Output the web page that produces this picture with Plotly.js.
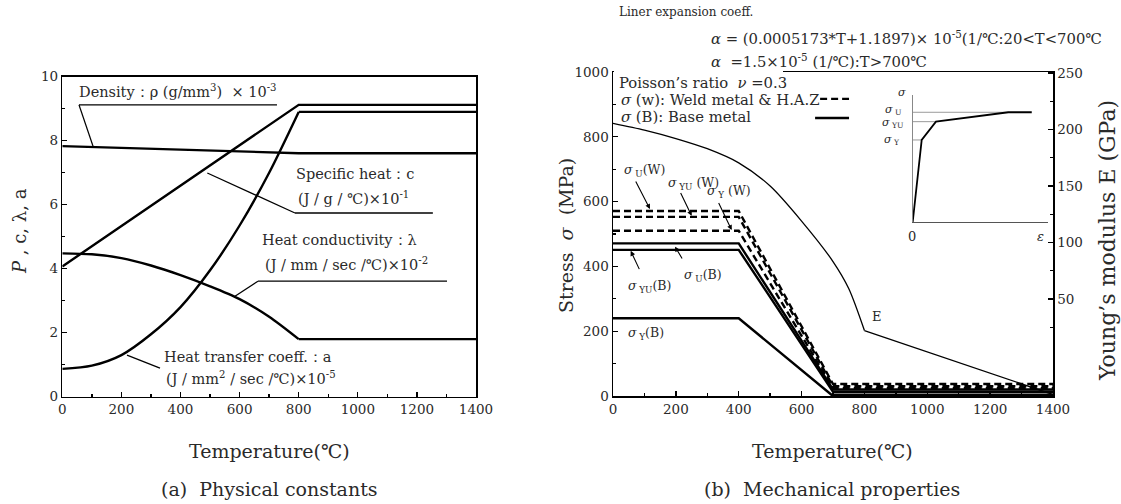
<!DOCTYPE html>
<html><head><meta charset="utf-8">
<script src="https://cdn.plot.ly/plotly-3.0.1.min.js"></script>
<style>html,body{margin:0;padding:0;background:#fff}#c{width:1121px;height:504px}</style>
</head><body><div id="c"></div>
<script>
// ---------- (a) Physical constants ----------
const densityT = [0, 800, 1400];
const densityV = [7.83, 7.61, 7.61];
const specHeatT = [0, 800, 1400];
const specHeatV = [4.07, 9.12, 9.12];
const conductT = [0, 100, 200, 300, 400, 500, 600, 700, 800, 1400];
const conductV = [4.48, 4.45, 4.33, 4.10, 3.80, 3.45, 3.05, 2.50, 1.80, 1.80];
const transferT = [0, 100, 200, 300, 400, 500, 600, 700, 800, 1400];
const transferV = [0.87, 0.97, 1.30, 1.95, 2.80, 3.95, 5.35, 7.00, 8.90, 8.90];

// ---------- (b) Mechanical properties ----------
const stressT = [0, 400, 700, 1400];
const sigUW  = [571, 571, 37, 37];
const sigYUW = [553, 553, 30, 30];
const sigYW  = [510, 510, 24, 24];
const sigUB  = [471, 471, 20, 20];
const sigYUB = [451, 451, 13, 13];
const sigYBT = [0, 400, 695, 1400];
const sigYB  = [240, 240, 4, 4];
const modT = [0, 100, 200, 300, 400, 500, 600, 700, 750, 800, 1400];
const modE = [205.5, 199.5, 192, 183, 170.5, 150, 119, 83.2, 59.3, 22.1, -34.5];

// inset schematic stress-strain curve
const insetStrain = [0, 0.0665, 0.172, 0.707, 0.88];
const insetStress = [0, 0.646, 0.790, 0.864, 0.864];
const insetLevels = [0.864, 0.790, 0.646];
const insetLevelEnd = [0.707, 0.172, 0.0665];

const xTicks = [0, 200, 400, 600, 800, 1000, 1200, 1400];
const yTicksA = [0, 2, 4, 6, 8, 10];
const yTicksStress = [0, 200, 400, 600, 800, 1000];
const yTicksE = [50, 100, 150, 200, 250];

const FONT = 'DejaVu Serif';
const TXT = '#2a2a2a';
const lineK = {color: '#000', width: 2.4};
const DASH = '7px,4px';

function ln(x, y, xa, ya, line, shape) {
  return {x: x, y: y, xaxis: xa, yaxis: ya, mode: 'lines', line: Object.assign({shape: shape || 'linear'}, line), hoverinfo: 'skip', showlegend: false};
}

const traces = [
  ln(densityT, densityV, 'x', 'y', lineK),
  ln(specHeatT, specHeatV, 'x', 'y', lineK),
  ln(conductT.slice(0, 9), conductV.slice(0, 9), 'x', 'y', Object.assign({smoothing: 0.8}, lineK), 'spline'),
  ln(conductT.slice(8), conductV.slice(8), 'x', 'y', lineK),
  ln(transferT.slice(0, 9), transferV.slice(0, 9), 'x', 'y', Object.assign({smoothing: 0.8}, lineK), 'spline'),
  ln(transferT.slice(8), transferV.slice(8), 'x', 'y', lineK),

  ln(stressT, sigUW, 'x2', 'y2', {color: '#000', width: 2.4, dash: DASH}),
  ln(stressT, sigYUW, 'x2', 'y2', {color: '#000', width: 2.4, dash: DASH}),
  ln(stressT, sigYW, 'x2', 'y2', {color: '#000', width: 2.4, dash: DASH}),
  ln(stressT, sigUB, 'x2', 'y2', lineK),
  ln(stressT, sigYUB, 'x2', 'y2', lineK),
  ln(sigYBT, sigYB, 'x2', 'y2', lineK),
  ln(modT.slice(0, 10), modE.slice(0, 10), 'x2', 'y3', {color: '#000', width: 1.3, smoothing: 0.8}, 'spline'),
  ln(modT.slice(9), modE.slice(9), 'x2', 'y3', {color: '#000', width: 1.3})
];
// gray level lines in the inset
for (let i = 0; i < insetLevels.length; i++) {
  traces.push(ln([0, insetLevelEnd[i]], [insetLevels[i], insetLevels[i]], 'x4', 'y4', {color: '#9a9a9a', width: 1}));
}
traces.push(ln(insetStrain, insetStress, 'x4', 'y4', {color: '#000', width: 1.8}));

const tickFont = {family: FONT, size: 13.5, color: TXT};
const baseAxis = {
  showgrid: false, zeroline: false, showline: true, linecolor: '#000', linewidth: 1.5,
  ticks: 'inside', ticklen: 5, tickwidth: 1.3, tickcolor: '#000', tickfont: tickFont
};
function ax(extra) { return Object.assign({}, baseAxis, extra); }

function ann(x, y, text, opts) {
  return Object.assign({x: x, y: y, text: text, showarrow: false, xanchor: 'left', yanchor: 'middle',
    font: {family: FONT, size: 14.5, color: TXT}}, opts || {});
}
function pap(px, py, text, size, opts) {
  return ann(px / 1121, 1 - py / 504, text, Object.assign({xref: 'paper', yref: 'paper', font: {family: FONT, size: size, color: TXT}}, opts || {}));
}
function seg(xref, yref, x0, y0, x1, y1, w, color, dash) {
  return {type: 'line', xref: xref, yref: yref, x0: x0, y0: y0, x1: x1, y1: y1,
    line: {color: color || '#000', width: w || 1.3, dash: dash || 'solid'}};
}
function arrow(x, y, axv, ayv) {
  return {x: x, y: y, ax: axv, ay: ayv, xref: 'x2', yref: 'y2', axref: 'x2', ayref: 'y2', text: '',
    showarrow: true, arrowhead: 2, arrowsize: 0.9, arrowwidth: 1.1, arrowcolor: '#000'};
}

const annotations = [
  // (a) labels
  ann(50, 9.55, 'Density：ρ (g/mm<sup>3</sup>)  × 10<sup>-3</sup>', {xref: 'x', yref: 'y'}),
  ann(784, 6.97, 'Specific heat：c', {xref: 'x', yref: 'y'}),
  ann(790, 6.22, '(J / g / ℃)×10<sup>-1</sup>', {xref: 'x', yref: 'y'}),
  ann(669, 4.91, 'Heat conductivity：λ', {xref: 'x', yref: 'y'}),
  ann(679, 4.16, '(J / mm / sec /℃)×10<sup>-2</sup>', {xref: 'x', yref: 'y'}),
  ann(337, 1.24, 'Heat transfer coeff.：a', {xref: 'x', yref: 'y'}),
  ann(344, 0.58, '(J / mm<sup>2</sup> / sec /℃)×10<sup>-5</sup>', {xref: 'x', yref: 'y'}),
  // (a) axis titles
  pap(20, 231, '<i>P</i> , c, λ, a', 18, {xanchor: 'center', textangle: -90}),
  pap(269, 451, 'Temperature(℃)', 19, {xanchor: 'center'}),
  pap(269, 489, '(a)  Physical constants', 19, {xanchor: 'center'}),

  // (b) header
  pap(617, 12, 'Liner expansion coeff.', 12),
  pap(709, 38, '<i>α</i> = (0.0005173*T+1.1897)× 10<sup>-5</sup>(1/℃:20&lt;T&lt;700℃', 14.8),
  pap(709, 60, '<i>α</i>  =1.5×10<sup>-5</sup> (1/℃):T&gt;700℃', 14.8),
  // legend block
  ann(13, 967, 'Poisson’s ratio  <i>ν</i> =0.3', {xref: 'x2', yref: 'y2', font: {family: FONT, size: 14.8, color: TXT}}),
  ann(19, 916, '<i>σ</i> (w): Weld metal &amp; H.A.Z', {xref: 'x2', yref: 'y2', font: {family: FONT, size: 14.8, color: TXT}}),
  ann(19, 864, '<i>σ</i> (B): Base metal', {xref: 'x2', yref: 'y2', font: {family: FONT, size: 14.8, color: TXT}}),
  // curve labels
  ann(29, 697, '<i>σ</i><sub> U</sub>(W)', {xref: 'x2', yref: 'y2', font: {family: FONT, size: 12.5, color: TXT}}),
  ann(169, 657, '<i>σ</i><sub> YU</sub> (W)', {xref: 'x2', yref: 'y2', font: {family: FONT, size: 12.5, color: TXT}}),
  ann(293, 631, '<i>σ</i><sub> Y</sub> (W)', {xref: 'x2', yref: 'y2', font: {family: FONT, size: 12.5, color: TXT}}),
  ann(219, 373, '<i>σ</i><sub> U</sub>(B)', {xref: 'x2', yref: 'y2', font: {family: FONT, size: 12.5, color: TXT}}),
  ann(41, 339, '<i>σ</i><sub> YU</sub>(B)', {xref: 'x2', yref: 'y2', font: {family: FONT, size: 12.5, color: TXT}}),
  ann(41, 194, '<i>σ</i><sub> Y</sub>(B)', {xref: 'x2', yref: 'y2', font: {family: FONT, size: 12.5, color: TXT}}),
  ann(839, 245, 'E', {xref: 'x2', yref: 'y2', xanchor: 'center', font: {family: FONT, size: 13, color: TXT}}),
  // leader arrows (b)
  arrow(117.7, 577, 70, 667),
  arrow(250.4, 556, 213, 631),
  arrow(377.7, 512, 334, 600),
  arrow(197.3, 461, 222.7, 420),
  arrow(56.3, 448, 85.9, 387),
  // inset labels
  pap(908, 92, '<i>σ</i>', 11, {xanchor: 'right'}),
  pap(904, 110, '<i>σ</i><sub> U</sub>', 11, {xanchor: 'right'}),
  pap(906, 123, '<i>σ</i><sub> YU</sub>', 11, {xanchor: 'right'}),
  pap(902, 140, '<i>σ</i><sub> Y</sub>', 11, {xanchor: 'right'}),
  pap(912, 236, '0', 13, {xanchor: 'center'}),
  pap(1040, 236, '<i>ε</i>', 13, {xanchor: 'center'}),
  // (b) axis titles
  pap(566, 236, 'Stress  <i>σ</i>  (MPa)', 19, {xanchor: 'center', textangle: -90}),
  pap(1107, 241, 'Young’s modulus E (GPa)', 22, {xanchor: 'center', textangle: -90}),
  pap(832, 451, 'Temperature(℃)', 19, {xanchor: 'center'}),
  pap(832, 489, '(b)  Mechanical properties', 19, {xanchor: 'center'})
];

const shapes = [
  // (a) leaders
  seg('x', 'y', 56.5, 9.12, 726.5, 9.12),
  seg('x', 'y', 56.5, 9.12, 103.9, 7.83),
  seg('x', 'y', 787.4, 5.74, 1254, 5.74),
  seg('x', 'y', 787.4, 5.74, 490.7, 6.99),
  seg('x', 'y', 662, 3.61, 1302, 3.61),
  seg('x', 'y', 662, 3.61, 584.4, 3.14),
  seg('x', 'y', 219, 1.30, 330.6, 0.894),
  // (b) cover top frame behind legend
  {type: 'rect', xref: 'paper', yref: 'paper', x0: 614 / 1121, x1: 783 / 1121, y0: 1 - 76 / 504, y1: 1 - 68 / 504, fillcolor: '#fff', line: {width: 0}, layer: 'above'},
  // legend samples
  seg('x2', 'y2', 659, 917, 751, 917, 2.4, '#000', DASH),
  seg('x2', 'y2', 643, 858, 751, 858, 2.6)
];

const layout = {
  width: 1121, height: 504, margin: {l: 0, r: 0, t: 0, b: 0},
  paper_bgcolor: '#fff', plot_bgcolor: 'rgba(0,0,0,0)', showlegend: false,
  font: {family: FONT, color: TXT},
  xaxis: ax({domain: [62.3 / 1121, 476 / 1121], range: [0, 1400], anchor: 'y', tickvals: xTicks, mirror: true,
    minor: {ticks: 'inside', dtick: 100, ticklen: 3, tickcolor: '#000'}}),
  yaxis: ax({domain: [1 - 396.7 / 504, 1 - 76.7 / 504], range: [0, 10], anchor: 'x', tickvals: yTicksA, mirror: true,
    minor: {ticks: 'inside', dtick: 1, ticklen: 3, tickcolor: '#000'}}),
  xaxis2: ax({domain: [613 / 1121, 1053 / 1121], range: [0, 1400], anchor: 'y2', tickvals: xTicks, mirror: true,
    minor: {ticks: 'inside', dtick: 100, ticklen: 3, tickcolor: '#000'}}),
  yaxis2: ax({domain: [1 - 396 / 504, 1 - 72 / 504], range: [0, 1000], anchor: 'x2', tickvals: yTicksStress,
    minor: {ticks: 'inside', dtick: 100, ticklen: 3, tickcolor: '#000'}}),
  yaxis3: ax({domain: [1 - 396 / 504, 1 - 72 / 504], range: [-35.8, 250.9], anchor: 'x2', overlaying: 'y2', side: 'right', tickvals: yTicksE,
    minor: {ticks: 'inside', tickvals: [25, 75, 125, 175, 225], ticklen: 3, tickcolor: '#000'}}),
  xaxis4: {domain: [912.7 / 1121, 1048 / 1121], range: [0, 1], anchor: 'y4', showgrid: false, zeroline: false, showline: true, linecolor: '#555', linewidth: 1.2, showticklabels: false, ticks: ''},
  yaxis4: {domain: [1 - 222 / 504, 1 - 95 / 504], range: [0, 1], anchor: 'x4', showgrid: false, zeroline: false, showline: true, linecolor: '#888', linewidth: 1, showticklabels: false, ticks: ''},
  annotations: annotations,
  shapes: shapes
};

Plotly.newPlot('c', traces, layout, {staticPlot: true, displayModeBar: false});
</script>
</body></html>
